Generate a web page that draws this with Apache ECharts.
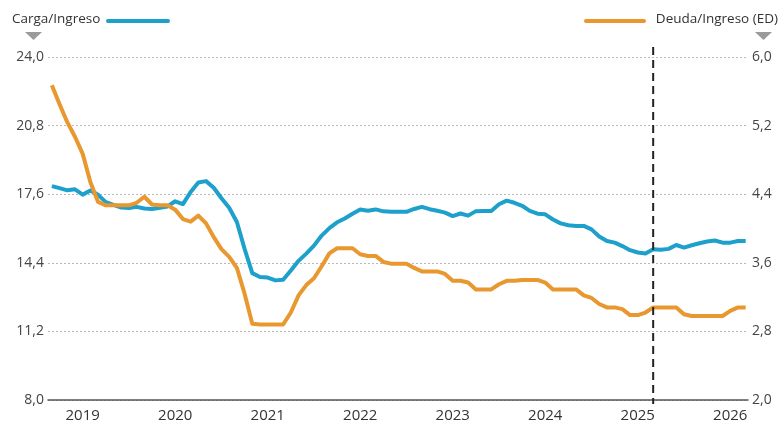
<!DOCTYPE html>
<html><head><meta charset="utf-8">
<script src="https://cdn.jsdelivr.net/npm/echarts@6/dist/echarts.min.js"></script>
<style>html,body{margin:0;padding:0;background:#fff}#c{width:783px;height:426px}</style>
</head><body><div id="c"></div>
<script>
// Monthly observations, index 0..90
const cargaIngreso = [
  17.98, 17.88, 17.78, 17.83, 17.58, 17.77, 17.57, 17.23, 17.10, 16.98,
  16.96, 17.01, 16.93, 16.91, 16.97, 17.03, 17.27, 17.14, 17.70, 18.15,
  18.21, 17.90, 17.41, 16.97, 16.30, 15.05, 13.92, 13.74, 13.71, 13.58,
  13.61, 14.04, 14.49, 14.83, 15.20, 15.67, 16.02, 16.29, 16.47, 16.69,
  16.89, 16.83, 16.89, 16.80, 16.78, 16.78, 16.78, 16.91, 17.01, 16.90,
  16.83, 16.74, 16.58, 16.70, 16.60, 16.81, 16.82, 16.82, 17.13, 17.30,
  17.20, 17.06, 16.82, 16.69, 16.66, 16.42, 16.24, 16.15, 16.12, 16.12,
  15.96, 15.63, 15.42, 15.34, 15.18, 14.99, 14.88, 14.83, 15.03, 15.01,
  15.05, 15.23, 15.11, 15.22, 15.31, 15.39, 15.44, 15.34, 15.34, 15.42,
  15.42
];
const deudaIngreso = [
  5.67, 5.45, 5.24, 5.07, 4.87, 4.54, 4.31, 4.27, 4.27, 4.27,
  4.27, 4.30, 4.37, 4.28, 4.27, 4.27, 4.22, 4.11, 4.08, 4.15,
  4.06, 3.90, 3.76, 3.67, 3.54, 3.24, 2.89, 2.88, 2.88, 2.88,
  2.88, 3.02, 3.22, 3.34, 3.42, 3.56, 3.71, 3.77, 3.77, 3.77,
  3.70, 3.68, 3.68, 3.61, 3.59, 3.59, 3.59, 3.54, 3.50, 3.50,
  3.50, 3.47, 3.39, 3.39, 3.37, 3.29, 3.29, 3.29, 3.35, 3.39,
  3.39, 3.40, 3.40, 3.40, 3.37, 3.29, 3.29, 3.29, 3.29, 3.22,
  3.19, 3.12, 3.08, 3.08, 3.06, 2.99, 2.99, 3.02, 3.08, 3.08,
  3.08, 3.08, 3.00, 2.98, 2.98, 2.98, 2.98, 2.98, 3.04, 3.08,
  3.08
];
const yearLabels = ['2019','2020','2021','2022','2023','2024','2025','2026'];
const yearLabelMonth = [4, 16, 28, 40, 52, 64, 76, 88];
const projectionStartMonth = 78;
const leftAxis = {min: 8, max: 24, interval: 3.2};
const rightAxis = {min: 2, max: 6, interval: 0.8};
const seriesNames = ['Carga/Ingreso', 'Deuda/Ingreso (ED)'];

const BLUE = '#1ea0cc';
const ORANGE = '#e8982f';
const FONT = '"Open Sans", "Noto Sans", sans-serif';

const toPairs = arr => arr.map((v, i) => [i, v]);
const fmt = v => v.toFixed(1).replace('.', ',');

const chart = echarts.init(document.getElementById('c'), null, {renderer: 'canvas'});
const option = {
  animation: false,
  backgroundColor: '#fff',
  textStyle: {fontFamily: FONT},
  grid: {left: 48, right: 35, top: 57, bottom: 26, containLabel: false},
  xAxis: {
    type: 'value', min: -0.5, max: 90.3,
    splitLine: {show: false},
    axisTick: {show: false},
    axisLine: {show: true, onZero: false, lineStyle: {color: '#555', width: 1.5}},
    axisLabel: {
      customValues: yearLabelMonth,
      formatter: v => yearLabels[yearLabelMonth.indexOf(Math.round(v))] || '',
      color: '#333', fontSize: 15, fontFamily: FONT, margin: 8
    }
  },
  yAxis: [
    {
      type: 'value', min: leftAxis.min, max: leftAxis.max, interval: leftAxis.interval,
      position: 'left',
      axisLine: {show: false}, axisTick: {show: false},
      splitLine: {show: true, lineStyle: {color: '#b8b8b8', type: [2, 2], width: 1}},
      axisLabel: {formatter: fmt, color: '#444', fontSize: 14, fontFamily: FONT, margin: 4, padding: [0, 0, 7, 0]}
    },
    {
      type: 'value', min: rightAxis.min, max: rightAxis.max, interval: rightAxis.interval,
      position: 'right',
      axisLine: {show: false}, axisTick: {show: false},
      splitLine: {show: false},
      axisLabel: {formatter: fmt, color: '#444', fontSize: 14, fontFamily: FONT, margin: 4, padding: [0, 0, 7, 0]}
    }
  ],
  series: [
    {
      name: seriesNames[0], type: 'line', yAxisIndex: 0, data: toPairs(cargaIngreso),
      showSymbol: false, lineStyle: {color: BLUE, width: 4, join: 'round'}, itemStyle: {color: BLUE}
    },
    {
      name: seriesNames[1], type: 'line', yAxisIndex: 1, data: toPairs(deudaIngreso),
      showSymbol: false, lineStyle: {color: ORANGE, width: 4, join: 'round'}, itemStyle: {color: ORANGE}
    }
  ]
};
chart.setOption(option);

const px = chart.convertToPixel({xAxisIndex: 0}, projectionStartMonth);
chart.setOption({
  graphic: [
    {type: 'text', left: 12, top: 12, style: {text: seriesNames[0], fill: '#333', font: '13.5px ' + FONT}},
    {type: 'line', shape: {x1: 108, y1: 21, x2: 168, y2: 21}, style: {stroke: BLUE, lineWidth: 4, lineCap: 'round'}},
    {type: 'polygon', shape: {points: [[25, 32], [42, 32], [33.5, 40]]}, style: {fill: '#9a9a9a'}},
    {type: 'line', shape: {x1: 586, y1: 21, x2: 644, y2: 21}, style: {stroke: ORANGE, lineWidth: 4, lineCap: 'round'}},
    {type: 'text', right: 5, top: 12, style: {text: seriesNames[1], fill: '#333', font: '13.5px ' + FONT}},
    {type: 'polygon', shape: {points: [[755, 32], [772, 32], [763.5, 40]]}, style: {fill: '#9a9a9a'}},
    {type: 'line', z: 10, shape: {x1: px, y1: 47, x2: px, y2: 404}, style: {stroke: '#222', lineWidth: 2, lineDash: [8, 5]}}
  ]
});
</script>
</body></html>
